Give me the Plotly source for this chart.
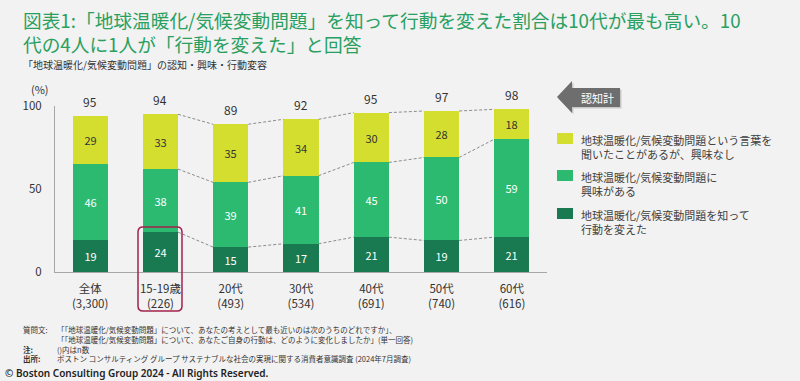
import plotly.graph_objects as go

categories = ["全体", "15-19歳", "20代", "30代", "40代", "50代", "60代"]
sample_n = ["3,300", "226", "493", "534", "691", "740", "616"]
acted = [19, 24, 15, 17, 21, 19, 21]
interested = [46, 38, 39, 41, 45, 50, 59]
no_interest = [29, 33, 35, 34, 30, 28, 18]
totals = [95, 94, 89, 92, 95, 97, 98]
yticks = [0, 50, 100]

legend_labels = [
    "地球温暖化/気候変動問題という言葉を<br>聞いたことがあるが、興味なし",
    "地球温暖化/気候変動問題に<br>興味がある",
    "地球温暖化/気候変動問題を知って<br>行動を変えた",
]

C_YEL = "#d4de2f"
C_MID = "#2bba70"
C_DRK = "#197a52"
BG = "#f2f2f2"
TXT = "#333333"
CJK = "Noto Sans CJK JP, Noto Sans, sans-serif"

W, H = 800, 381
L, R, T, B = 55, 547, 106, 272


def px(x):
    return (x - L) / (R - L)


def py(y):
    return (B - y) / (B - T)


xs = list(range(len(categories)))
fig = go.Figure()

series = [
    (acted, C_DRK, "white", legend_labels[2]),
    (interested, C_MID, "white", legend_labels[1]),
    (no_interest, C_YEL, TXT, legend_labels[0]),
]
for vals, col, tcol, name in series:
    fig.add_trace(go.Bar(
        x=xs, y=vals, name=name, marker=dict(color=col, line=dict(width=0)),
        width=0.5, text=[str(v) for v in vals], textposition="inside",
        insidetextanchor="middle", textangle=0,
        textfont=dict(family=CJK, size=11, color=tcol),
        showlegend=False, hoverinfo="skip",
    ))

# dashed connector lines between bars (from 15-19歳 onward)
cum1 = acted
cum2 = [a + b for a, b in zip(acted, interested)]
cum3 = [a + b + c for a, b, c in zip(acted, interested, no_interest)]
for cum in (cum1, cum2, cum3):
    lx, ly = [], []
    for i in range(1, len(categories) - 1):
        lx += [i + 0.25, i + 0.75, None]
        ly += [cum[i], cum[i + 1], None]
    fig.add_trace(go.Scatter(
        x=lx, y=ly, mode="lines", line=dict(color="#8c8c8c", width=1, dash="3px,2px"),
        showlegend=False, hoverinfo="skip",
    ))

annotations = []
# totals above bars
for i, t in enumerate(totals):
    annotations.append(dict(
        x=i, y=cum3[i], xref="x", yref="y", text=str(t), showarrow=False,
        xanchor="center", yanchor="bottom", yshift=4,
        font=dict(family=CJK, size=12, color=TXT),
    ))

# (%) label
annotations.append(dict(x=px(40), y=py(89), xref="paper", yref="paper", text="(%)",
                        xanchor="center", yanchor="middle",
                        showarrow=False, font=dict(family=CJK, size=11, color=TXT)))

# Title
annotations.append(dict(
    x=px(21), y=py(4), xref="paper", yref="paper", xanchor="left", yanchor="top",
    align="left", showarrow=False,
    text="図表1:「地球温暖化/気候変動問題」を知って行動を変えた割合は10代が最も高い。10<br>代の4人に1人が「行動を変えた」と回答",
    font=dict(family=CJK, size=18.7, color="#29a060"),
))
annotations.append(dict(
    x=px(21), y=py(64.5), xref="paper", yref="paper", xanchor="left", yanchor="middle",
    showarrow=False, text="「地球温暖化/気候変動問題」の認知・興味・行動変容",
    font=dict(family=CJK, size=10, color=TXT),
))

# arrow label text
annotations.append(dict(x=px(597), y=py(97.5), xref="paper", yref="paper", text="認知計",
                        xanchor="center", yanchor="middle",
                        showarrow=False, font=dict(family=CJK, size=11, color="white")))

# custom legend
leg_y = [139, 176, 214]
leg_cols = [C_YEL, C_MID, C_DRK]
shapes = []
for yy, col, lab in zip(leg_y, leg_cols, legend_labels):
    shapes.append(dict(type="rect", xref="paper", yref="paper", layer="below",
                       x0=px(557), x1=px(573), y0=py(yy - 6), y1=py(yy + 5),
                       fillcolor=col, line=dict(width=0)))
    annotations.append(dict(x=px(579), y=py(yy - 9), xref="paper", yref="paper",
                            xanchor="left", yanchor="top", align="left", showarrow=False,
                            text=lab, font=dict(family=CJK, size=11, color="#404040")))

# footer (one block for labels, one for texts)
foot_labels = ["質問文:", "&nbsp;", "<b>注:</b>", "<b>出所:</b>"]
foot_texts = [
    "「「地球温暖化/気候変動問題」について、あなたの考えとして最も近いのは次のうちのどれですか」、",
    "「「地球温暖化/気候変動問題」について、あなたご自身の行動は、どのように変化しましたか」(単一回答)",
    "()内はn数",
    "ボストン コンサルティング グループ サステナブルな社会の実現に関する消費者意識調査 (2024年7月調査)",
]
annotations.append(dict(x=px(21), y=py(322), xref="paper", yref="paper", xanchor="left",
                        yanchor="top", align="left", showarrow=False,
                        text="<br>".join(foot_labels),
                        font=dict(family=CJK, size=7.5, color=TXT)))
annotations.append(dict(x=px(55), y=py(322), xref="paper", yref="paper", xanchor="left",
                        yanchor="top", align="left", showarrow=False,
                        text="<br>".join(foot_texts),
                        font=dict(family=CJK, size=7.5, color=TXT)))
annotations.append(dict(x=px(3), y=py(373), xref="paper", yref="paper", xanchor="left",
                        yanchor="middle", showarrow=False,
                        text="© Boston Consulting Group 2024 - All Rights Reserved.",
                        font=dict(family="Noto Sans, sans-serif", size=10, color="#222222",
                                  weight=600)))


def pth(pts):
    return "M " + " L ".join(f"{px(a):.5f},{py(b):.5f}" for a, b in pts) + " Z"


# arrow shape (認知計)
arrow = [(557, 97), (572, 81), (572, 88), (620, 88), (620, 107), (572, 107), (572, 113)]
shadow = [(a + 1.5, b + 1.5) for a, b in arrow]
shapes.append(dict(type="path", xref="paper", yref="paper", path=pth(shadow), layer="below",
                   fillcolor="#c8c8c8", line=dict(width=0)))
shapes.append(dict(type="path", xref="paper", yref="paper", path=pth(arrow), layer="below",
                   fillcolor="#6e6e6e", line=dict(width=0)))

# red highlight box around 15-19歳
bx0, bx1, by0, by1, r = 138, 182, 227, 311, 5
path = (f"M {px(bx0 + r):.5f},{py(by0):.5f} L {px(bx1 - r):.5f},{py(by0):.5f} "
        f"Q {px(bx1):.5f},{py(by0):.5f} {px(bx1):.5f},{py(by0 + r):.5f} "
        f"L {px(bx1):.5f},{py(by1 - r):.5f} Q {px(bx1):.5f},{py(by1):.5f} {px(bx1 - r):.5f},{py(by1):.5f} "
        f"L {px(bx0 + r):.5f},{py(by1):.5f} Q {px(bx0):.5f},{py(by1):.5f} {px(bx0):.5f},{py(by1 - r):.5f} "
        f"L {px(bx0):.5f},{py(by0 + r):.5f} Q {px(bx0):.5f},{py(by0):.5f} {px(bx0 + r):.5f},{py(by0):.5f} Z")
shapes.append(dict(type="path", xref="paper", yref="paper", path=path,
                   line=dict(color="#a3224c", width=1.5), fillcolor="rgba(0,0,0,0)"))

fig.update_layout(
    width=W, height=H, barmode="stack", bargap=0,
    margin=dict(l=L, r=W - R, t=T, b=H - B, pad=0),
    paper_bgcolor=BG, plot_bgcolor=BG, showlegend=False,
    annotations=annotations, shapes=shapes,
    xaxis=dict(range=[-0.5, 6.5], tickvals=xs,
               ticktext=[f"{c}<br>({n})" for c, n in zip(categories, sample_n)],
               showline=True, linecolor="#a6a6a6", linewidth=1, ticks="", showgrid=False,
               zeroline=False, ticklabelstandoff=6, fixedrange=True,
               tickfont=dict(family=CJK, size=11.5, color=TXT)),
    yaxis=dict(range=[0, 100], tickvals=yticks, showline=True, linecolor="#a6a6a6",
               linewidth=1, ticks="", showgrid=False, zeroline=False, ticklabelstandoff=10,
               fixedrange=True, tickfont=dict(family=CJK, size=11.5, color=TXT)),
)

fig.write_html("out.html", config={"displayModeBar": False},
               post_script="document.body.style.margin='0';document.body.style.background='#f2f2f2';")
